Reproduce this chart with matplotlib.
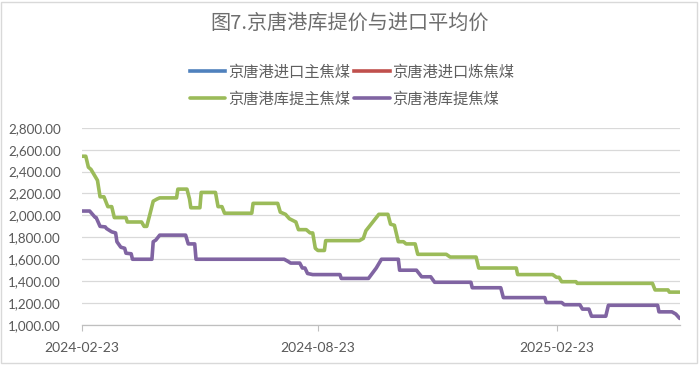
import numpy as np
import pandas as pd
import matplotlib
matplotlib.use("Agg")
import matplotlib.pyplot as plt
from matplotlib.patches import Rectangle

plt.rcParams['font.family'] = ['Noto Sans CJK SC', 'DejaVu Sans']

# data: breakpoints, as days since 2024-02-23
start = pd.Timestamp('2024-02-23')

green_days = [0, 3, 5, 7, 11, 12, 14, 17, 20, 23, 25, 34, 35, 46, 48, 50, 52, 55, 58, 60,
              73, 74, 81, 83, 84, 91, 92, 103, 105, 108, 110, 131, 132, 151, 153, 157, 160,
              165, 167, 173, 176, 178, 180, 182, 187, 188, 214, 217, 219, 223, 229, 236,
              238, 241, 244, 248, 250, 257, 259, 281, 284, 304, 306, 335, 336, 363, 366,
              368, 370, 381, 382, 440, 442, 452, 453, 461]
green_vals = [2540, 2540, 2440, 2420, 2340, 2320, 2170, 2170, 2080, 2080, 1980, 1980, 1940,
              1940, 1900, 1900, 1990, 2130, 2150, 2160, 2160, 2240, 2240, 2150, 2070, 2070,
              2210, 2210, 2080, 2080, 2020, 2020, 2110, 2110, 2030, 2010, 1970, 1940, 1870,
              1870, 1840, 1840, 1700, 1680, 1680, 1770, 1770, 1790, 1860, 1920, 2010, 2010,
              1920, 1910, 1760, 1760, 1740, 1740, 1645, 1645, 1620, 1620, 1520, 1520, 1460,
              1460, 1435, 1435, 1395, 1395, 1380, 1380, 1320, 1320, 1300, 1300]

purple_days = [0, 6, 10, 11, 14, 18, 19, 23, 26, 27, 30, 33, 34, 38, 39, 54, 55, 57, 60,
               80, 82, 87, 88, 156, 159, 161, 168, 170, 172, 174, 178, 199, 200, 221, 227,
               231, 244, 245, 258, 262, 269, 272, 300, 301, 323, 325, 357, 358, 370, 372,
               384, 386, 391, 393, 404, 406, 444, 445, 455, 458, 461]
purple_vals = [2040, 2040, 1985, 1980, 1900, 1895, 1880, 1850, 1840, 1760, 1710, 1700, 1655,
               1650, 1600, 1600, 1760, 1775, 1820, 1820, 1740, 1740, 1600, 1600, 1580, 1565,
               1565, 1520, 1520, 1470, 1460, 1460, 1425, 1425, 1520, 1600, 1600, 1500, 1500,
               1440, 1440, 1390, 1390, 1340, 1340, 1250, 1250, 1205, 1205, 1185, 1185, 1145,
               1145, 1080, 1080, 1180, 1180, 1120, 1120, 1100, 1060]

series_names = ['京唐港进口主焦煤', '京唐港进口炼焦煤', '京唐港库提主焦煤', '京唐港库提焦煤']
series_colors = ['#4F81BD', '#C0504D', '#9BBB59', '#8064A2']
tick_dates = ['2024-02-23', '2024-08-23', '2025-02-23']
y_ticks = [1000, 1200, 1400, 1600, 1800, 2000, 2200, 2400, 2600, 2800]

fig = plt.figure(figsize=(7, 3.65), dpi=100)
ax = fig.add_axes([0.117, 0.1096, 0.854, 0.5404])

green_x = start + pd.to_timedelta(green_days, unit='D')
purple_x = start + pd.to_timedelta(purple_days, unit='D')

# import series have no data in the picture, only legend entries
h_blue, = ax.plot([], [], color=series_colors[0], lw=2.6, label=series_names[0])
h_red, = ax.plot([], [], color=series_colors[1], lw=2.6, label=series_names[1])
h_green, = ax.plot(green_x, green_vals, color=series_colors[2], lw=2.6,
                   solid_joinstyle='round', solid_capstyle='round', label=series_names[2], zorder=3)
h_purple, = ax.plot(purple_x, purple_vals, color=series_colors[3], lw=2.6,
                    solid_joinstyle='round', solid_capstyle='round', label=series_names[3], zorder=3)

ax.set_ylim(1000, 2800)
ax.set_xlim(start, start + pd.Timedelta(days=461))
ax.set_yticks(y_ticks)
ax.set_yticklabels([f'{v:,.2f}' for v in y_ticks], family='Lato', fontsize=9.6, color='#595959')
ax.set_xticks(pd.to_datetime(tick_dates))
ax.set_xticklabels(tick_dates, family='Lato', fontsize=10, color='#595959')
ax.tick_params(axis='y', length=0, pad=15)
ax.tick_params(axis='x', length=4, width=0.8, color='#BFBFBF', pad=8)

ax.grid(axis='y', color='#D9D9D9', lw=0.9)
for s in ['top', 'right', 'left']:
    ax.spines[s].set_visible(False)
ax.spines['bottom'].set_color('#BFBFBF')
ax.spines['bottom'].set_linewidth(0.9)
ax.set_axisbelow(True)

fig.text(0.499, 0.936, '图7.京唐港库提价与进口平均价', ha='center', va='center',
         fontsize=14.5, color='#6E6E6E', fontweight='light')

leg = fig.legend(handles=[h_blue, h_green, h_red, h_purple], ncol=2, loc='center',
                 bbox_to_anchor=(0.503, 0.765), frameon=False, fontsize=11,
                 handlelength=2.3, handletextpad=0.2, columnspacing=0.3, labelspacing=0.65)
for t in leg.get_texts():
    t.set_color('#5F5F5F')

fig.add_artist(Rectangle((0.002, 0.005), 0.994, 0.99, transform=fig.transFigure,
                         fill=False, edgecolor='#D9D9D9', lw=1))

fig.savefig('out.png', dpi=100)
